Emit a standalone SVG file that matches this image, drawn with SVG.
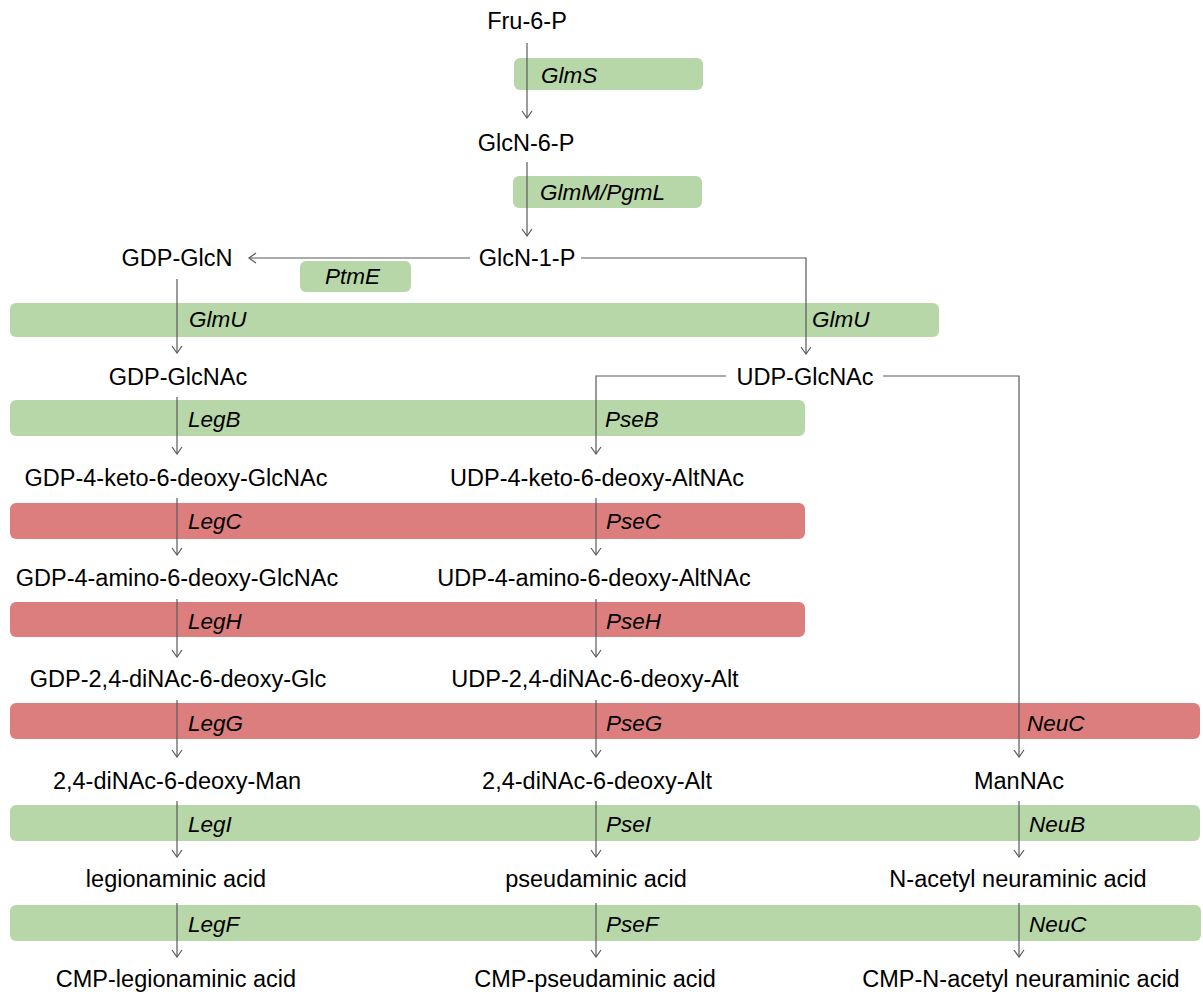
<svg xmlns="http://www.w3.org/2000/svg" width="1203" height="998" viewBox="0 0 1203 998">
<style>
.node{font-family:"Liberation Sans",Arial,sans-serif;font-size:23.5px;fill:#000;text-anchor:middle}
.lbl{font-family:"Liberation Sans",Arial,sans-serif;font-size:22.5px;font-style:italic;fill:#000}
.g{fill:#b7d7a8}
.r{fill:#dd7e7e}
.c{fill:none;stroke:#595959;stroke-width:1.2}
</style>
<defs>
<marker id="ah" viewBox="-10 -10 20 20" markerWidth="20" markerHeight="20" refX="0" refY="0" orient="auto" markerUnits="userSpaceOnUse">
<path d="M-7,-5 L0,0 L-7,5" fill="none" stroke="#595959" stroke-width="1.2"/>
</marker>
</defs>
<g id="enzymes">
<g id="e-glms"><rect class="g" x="514" y="58" width="189" height="32" rx="6"/><text class="lbl" x="541" y="83">GlmS</text></g>
<g id="e-glmm"><rect class="g" x="513" y="176" width="189" height="32" rx="6"/><text class="lbl" x="540" y="200">GlmM/PgmL</text></g>
<g id="e-ptme"><rect class="g" x="300" y="261" width="111" height="31" rx="6"/><text class="lbl" x="325" y="284">PtmE</text></g>
<g id="e-glmu"><rect class="g" x="10" y="303" width="929" height="34" rx="6"/><text class="lbl" x="189" y="327">GlmU</text><text class="lbl" x="812" y="327">GlmU</text></g>
<g id="e-b"><rect class="g" x="10" y="400" width="795" height="36" rx="6"/><text class="lbl" x="188" y="427">LegB</text><text class="lbl" x="605" y="427">PseB</text></g>
<g id="e-c"><rect class="r" x="10" y="503" width="795" height="36" rx="6"/><text class="lbl" x="188" y="529">LegC</text><text class="lbl" x="606" y="529">PseC</text></g>
<g id="e-h"><rect class="r" x="10" y="602" width="795" height="35" rx="6"/><text class="lbl" x="188" y="629">LegH</text><text class="lbl" x="606" y="629">PseH</text></g>
<g id="e-g"><rect class="r" x="10" y="703" width="1190" height="36" rx="6"/><text class="lbl" x="188" y="731">LegG</text><text class="lbl" x="606" y="731">PseG</text><text class="lbl" x="1027" y="731">NeuC</text></g>
<g id="e-i"><rect class="g" x="10" y="805" width="1190" height="36" rx="6"/><text class="lbl" x="188" y="832">LegI</text><text class="lbl" x="606" y="832">PseI</text><text class="lbl" x="1029" y="832">NeuB</text></g>
<g id="e-f"><rect class="g" x="10" y="905" width="1191" height="36" rx="6"/><text class="lbl" x="188" y="932">LegF</text><text class="lbl" x="606" y="932">PseF</text><text class="lbl" x="1029" y="932">NeuC</text></g>
</g>
<g id="connectors">
<line class="c" x1="527" y1="43" x2="527" y2="118" marker-end="url(#ah)"/>
<line class="c" x1="527" y1="162" x2="527" y2="236" marker-end="url(#ah)"/>
<line class="c" x1="470" y1="258" x2="249" y2="258" marker-end="url(#ah)"/>
<polyline class="c" points="581,258 806,258 806,354" marker-end="url(#ah)"/>
<line class="c" x1="177" y1="279" x2="177" y2="353" marker-end="url(#ah)"/>
<line class="c" x1="177" y1="397" x2="177" y2="454" marker-end="url(#ah)"/>
<line class="c" x1="177" y1="498" x2="177" y2="555" marker-end="url(#ah)"/>
<line class="c" x1="177" y1="599" x2="177" y2="657" marker-end="url(#ah)"/>
<line class="c" x1="177" y1="700" x2="177" y2="757" marker-end="url(#ah)"/>
<line class="c" x1="177" y1="801" x2="177" y2="857" marker-end="url(#ah)"/>
<line class="c" x1="177" y1="903" x2="177" y2="957" marker-end="url(#ah)"/>
<polyline class="c" points="726,376 596,376 596,454" marker-end="url(#ah)"/>
<line class="c" x1="596" y1="498" x2="596" y2="555" marker-end="url(#ah)"/>
<line class="c" x1="596" y1="599" x2="596" y2="657" marker-end="url(#ah)"/>
<line class="c" x1="596" y1="700" x2="596" y2="757" marker-end="url(#ah)"/>
<line class="c" x1="596" y1="801" x2="596" y2="857" marker-end="url(#ah)"/>
<line class="c" x1="596" y1="903" x2="596" y2="957" marker-end="url(#ah)"/>
<polyline class="c" points="883,376 1019,376 1019,757" marker-end="url(#ah)"/>
<line class="c" x1="1019" y1="801" x2="1019" y2="857" marker-end="url(#ah)"/>
<line class="c" x1="1019" y1="903" x2="1019" y2="957" marker-end="url(#ah)"/>
</g>
<g id="nodes">
<g id="n-fru6p"><text class="node" x="527" y="29">Fru-6-P</text></g>
<g id="n-glcn6p"><text class="node" x="526" y="151">GlcN-6-P</text></g>
<g id="n-glcn1p"><text class="node" x="527" y="266">GlcN-1-P</text></g>
<g id="n-gdpglcn"><text class="node" x="177" y="266">GDP-GlcN</text></g>
<g id="n-gdpglcnac"><text class="node" x="178" y="385">GDP-GlcNAc</text></g>
<g id="n-udpglcnac"><text class="node" x="805" y="385">UDP-GlcNAc</text></g>
<g id="n-gdpketo"><text class="node" x="176" y="486">GDP-4-keto-6-deoxy-GlcNAc</text></g>
<g id="n-udpketo"><text class="node" x="597" y="486">UDP-4-keto-6-deoxy-AltNAc</text></g>
<g id="n-gdpamino"><text class="node" x="177" y="586">GDP-4-amino-6-deoxy-GlcNAc</text></g>
<g id="n-udpamino"><text class="node" x="594" y="586">UDP-4-amino-6-deoxy-AltNAc</text></g>
<g id="n-gdpdinac"><text class="node" x="178" y="687">GDP-2,4-diNAc-6-deoxy-Glc</text></g>
<g id="n-udpdinac"><text class="node" x="595" y="687">UDP-2,4-diNAc-6-deoxy-Alt</text></g>
<g id="n-man"><text class="node" x="177" y="789">2,4-diNAc-6-deoxy-Man</text></g>
<g id="n-alt"><text class="node" x="597" y="789">2,4-diNAc-6-deoxy-Alt</text></g>
<g id="n-mannac"><text class="node" x="1019" y="789">ManNAc</text></g>
<g id="n-leg"><text class="node" x="176" y="887">legionaminic acid</text></g>
<g id="n-pse"><text class="node" x="596" y="887">pseudaminic acid</text></g>
<g id="n-neu"><text class="node" x="1018" y="887">N-acetyl neuraminic acid</text></g>
<g id="n-cmpleg"><text class="node" x="176" y="987">CMP-legionaminic acid</text></g>
<g id="n-cmppse"><text class="node" x="595" y="987">CMP-pseudaminic acid</text></g>
<g id="n-cmpneu"><text class="node" x="1021" y="987">CMP-N-acetyl neuraminic acid</text></g>
</g>
</svg>
